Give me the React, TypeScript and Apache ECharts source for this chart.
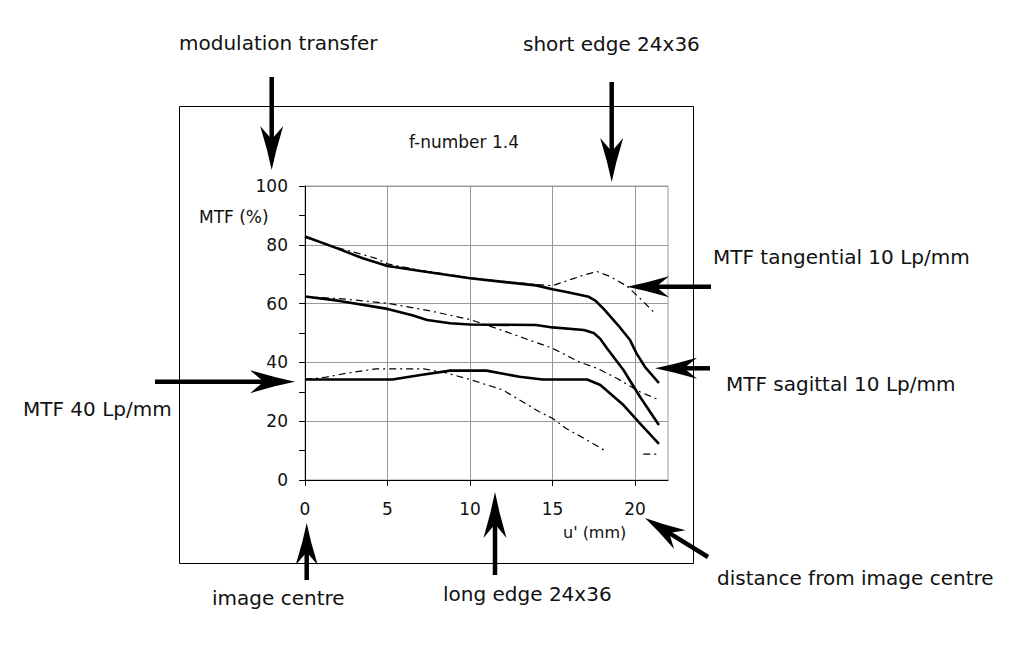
import React, { useEffect, useRef } from "react";
import * as echarts from "echarts";

// u' (mm) vs MTF (%) — f-number 1.4
const tangential10Solid = [
  [0, 82.8], [2, 78.7], [3.5, 75.4], [5, 72.8], [7, 71.1], [10, 68.6], [12, 67.4],
  [14, 66.2], [15, 64.9], [16, 63.8], [17.2, 62.3], [17.6, 61], [18.1, 58.2],
  [19.1, 51.8], [19.7, 47.6], [20.1, 43], [20.6, 38.5], [21.45, 33],
];
const tangential10Dashed = [
  [0, 82.5], [2, 79], [4.3, 75.4], [5, 73.5], [7, 71.3], [10, 68.8], [12, 67.6],
  [14, 66.5], [15, 66.1], [16, 68], [16.9, 69.7], [17.7, 70.9], [18.5, 69.2],
  [19.5, 66], [20.3, 61.8], [21.2, 56.8],
];
const sagittal10Solid = [
  [0, 62.4], [2, 61], [5, 58.2], [6.5, 56], [7.4, 54.4], [8.8, 53.3], [10, 52.9],
  [14, 52.7], [15, 51.9], [16.9, 51], [17.5, 50], [17.9, 48], [18.3, 44.8],
  [19.3, 37.4], [20.3, 28.3], [21.45, 18.7],
];
const sagittal10Dashed = [
  [0, 62.4], [2.5, 61.5], [5, 60.1], [7.5, 57.6], [10, 54.6], [12, 50.8], [15, 44.8],
  [16.6, 40.2], [17.7, 38], [18.9, 34.6], [20.3, 30], [21.4, 27.4],
];
const mtf40Solid = [
  [0, 34.2], [5.3, 34.2], [7, 35.7], [8.8, 37.2], [11, 37.2], [13, 35.1], [14.4, 34.2],
  [17.1, 34.2], [17.9, 32.3], [19.3, 25.5], [20.3, 19.3], [21.45, 12.3],
];
const mtf40Dashed: any[] = [
  [0, 34.2], [1.3, 35], [2.5, 36.3], [4.3, 37.8], [7.2, 37.8], [8.5, 36.5], [10, 34.2],
  [12, 30.6], [14.2, 23.2], [15, 21], [15.8, 17.6], [16.9, 14.2], [18.3, 9.6],
  [19.4, "-"], [20.5, 8.8], [21.4, 8.8],
];
const xTicks = [0, 5, 10, 15, 20];

const FONT = "DejaVu Sans";
const TXT = "#111";

function arrow(x1: number, y1: number, x2: number, y2: number, L = 44, W = 11.5) {
  const dx = x2 - x1, dy = y2 - y1;
  const len = Math.sqrt(dx * dx + dy * dy);
  const ux = dx / len, uy = dy / len;
  const px = -uy, py = ux;
  const pt = (a: number, b: number) => [x2 + ux * a + px * b, y2 + uy * a + py * b];
  const head = [
    pt(0, 0), pt(-L * 0.45, W * 0.4), pt(-L, W), pt(-L * 0.75, 2),
    pt(-L * 0.75, -2), pt(-L, -W), pt(-L * 0.45, -W * 0.4),
  ];
  const se = pt(-L * 0.7, 0);
  return [
    { type: "line", shape: { x1, y1, x2: se[0], y2: se[1] }, style: { stroke: "#000", lineWidth: 4.5 }, z: 10 },
    { type: "polygon", shape: { points: head }, style: { fill: "#000" }, z: 10 },
  ];
}

function txt(text: string, x: number, y: number, size = 20) {
  return {
    type: "text",
    z: 10,
    style: { text, x, y, fill: TXT, font: `${size}px "${FONT}"`, textVerticalAlign: "middle" },
  };
}

export default function App() {
  const ref = useRef<HTMLDivElement>(null);
  useEffect(() => {
    const chart = echarts.init(ref.current!, null, { renderer: "svg" });
    const solid = { color: "#000", width: 2.6 };
    const dashed = { color: "#000", width: 1.2, type: [7, 4, 2, 4] };
    const mk = (name: string, data: any[], ls: any) => ({
      name, type: "line", data, symbol: "none", lineStyle: ls, connectNulls: false, z: 3,
    });
    chart.setOption({
      animation: false,
      backgroundColor: "#fff",
      grid: { left: 305, top: 186, width: 363, height: 294, show: true, borderColor: "#999", borderWidth: 1 },
      xAxis: {
        type: "value", min: 0, max: 22, interval: 5,
        axisLine: { show: true, lineStyle: { color: "#000", width: 1 } },
        axisTick: { show: true, length: 6, lineStyle: { color: "#000" }, customValues: xTicks },
        axisLabel: { customValues: xTicks, margin: 20, fontSize: 17, color: TXT, fontFamily: FONT },
        splitLine: { show: true, lineStyle: { color: "#999", width: 1 } },
      },
      yAxis: {
        type: "value", min: 0, max: 100, interval: 20,
        axisLine: { show: true, lineStyle: { color: "#000", width: 1 } },
        axisTick: { show: true, length: 6, lineStyle: { color: "#000" } },
        minorTick: { show: true, splitNumber: 2, length: 6, lineStyle: { color: "#000" } },
        axisLabel: { margin: 17, fontSize: 17, color: TXT, fontFamily: FONT },
        splitLine: { show: true, lineStyle: { color: "#999", width: 1 } },
      },
      series: [
        mk("MTF tangential 10 Lp/mm (dashed)", tangential10Dashed, dashed),
        mk("MTF sagittal 10 Lp/mm (dashed)", sagittal10Dashed, dashed),
        mk("MTF 40 Lp/mm (dashed)", mtf40Dashed, dashed),
        mk("MTF tangential 10 Lp/mm", tangential10Solid, solid),
        mk("MTF sagittal 10 Lp/mm", sagittal10Solid, solid),
        mk("MTF 40 Lp/mm", mtf40Solid, solid),
      ],
      graphic: [
        { type: "rect", shape: { x: 179.5, y: 106.5, width: 514, height: 457 }, style: { fill: "none", stroke: "#000", lineWidth: 1 }, z: 1 },
        txt("f-number 1.4", 409, 142, 17),
        txt("MTF (%)", 199, 217, 17),
        txt("u' (mm)", 563, 532, 16),
        txt("modulation transfer", 179, 43),
        txt("short edge 24x36", 523, 44),
        txt("MTF tangential 10 Lp/mm", 713, 257),
        txt("MTF sagittal 10 Lp/mm", 726, 384),
        txt("MTF 40 Lp/mm", 23, 409),
        txt("image centre", 212, 598),
        txt("long edge 24x36", 443, 594),
        txt("distance from image centre", 717, 578),
        ...arrow(271.7, 77, 271.7, 170),
        ...arrow(611.7, 82, 611.7, 182),
        ...arrow(711, 286.7, 627, 286.7, 42, 10.5),
        ...arrow(710, 368.3, 655, 368.3, 42, 10.5),
        ...arrow(155, 381.7, 295, 381.7, 45, 11.5),
        ...arrow(306.7, 580, 306.7, 523, 42, 11),
        ...arrow(495, 575, 495, 492, 46, 11.5),
        ...arrow(708, 557, 645, 518, 41, 11),
      ],
    });
    return () => chart.dispose();
  }, []);
  return (
    <div
      ref={ref}
      style={{ position: "fixed", left: 0, top: 0, width: 1014, height: 650, background: "#fff" }}
    />
  );
}
